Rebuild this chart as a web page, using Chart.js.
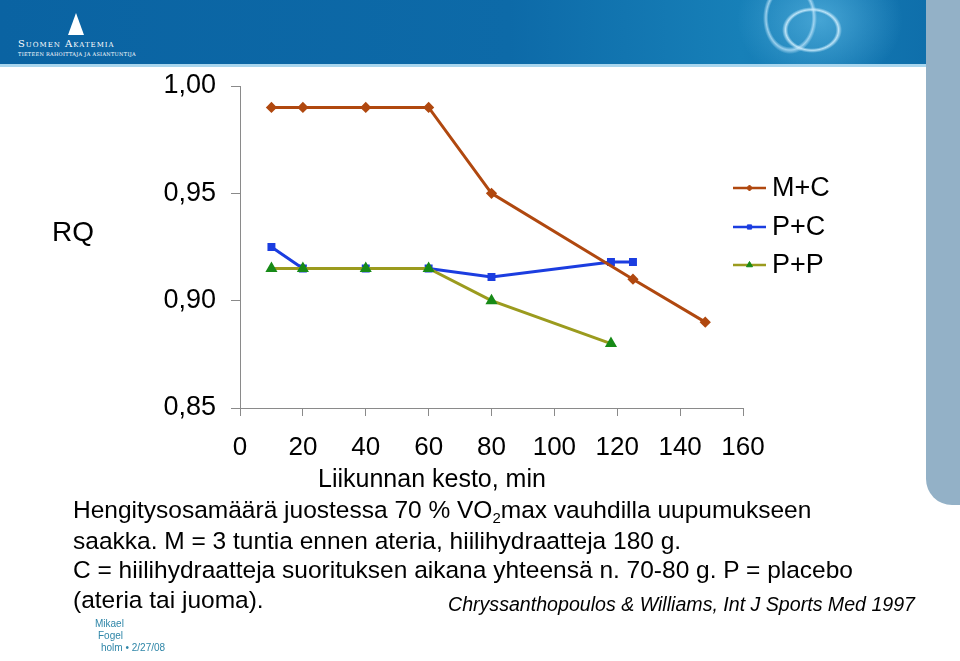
<!DOCTYPE html>
<html>
<head>
<meta charset="utf-8">
<script src="https://cdn.jsdelivr.net/npm/chart.js@4.4.1/dist/chart.umd.min.js"></script>
<style>
  html, body { margin: 0; padding: 0; background: #fff; }
  body { width: 960px; height: 661px; position: relative; overflow: hidden;
         font-family: "Liberation Sans", Arial, Helvetica, sans-serif; color: #000; }
  #banner { position: absolute; left: 0; top: 0; width: 926px; height: 64px;
            background:
              radial-gradient(ellipse 34px 26px at 812px 30px, rgba(0,0,0,0) 70%, rgba(210,240,255,0.85) 78%, rgba(0,0,0,0) 88%),
              radial-gradient(ellipse 30px 40px at 790px 18px, rgba(0,0,0,0) 72%, rgba(200,235,255,0.7) 80%, rgba(0,0,0,0) 90%),
              radial-gradient(ellipse 110px 90px at 820px 20px, rgba(110,200,240,0.55), rgba(0,0,0,0) 75%),
              linear-gradient(90deg, #0a63a2 0%, #0d6aa8 55%, #1780b8 80%, #0f6fab 100%);
            border-bottom: 3px solid #a9d6ee; }
  #panel { position: absolute; left: 926px; top: 0; width: 34px; height: 505px;
           background: #93b1c7; border-bottom-left-radius: 26px; }
  #tri { position: absolute; left: 68px; top: 13px; width: 0; height: 0;
         border-left: 8px solid transparent; border-right: 8px solid transparent;
         border-bottom: 22px solid #fff; }
  #logo1 { position: absolute; left: 18px; top: 38px; color: #fff; font-family: "DejaVu Serif", serif;
           font-size: 10px; letter-spacing: 1px; font-variant: small-caps; white-space: nowrap; }
  #logo2 { position: absolute; left: 18px; top: 51px; color: #fff; font-family: "DejaVu Serif", serif;
           font-size: 5px; letter-spacing: 0.3px; white-space: nowrap; }
  canvas { position: absolute; left: 0; top: 0; }
  .t { position: absolute; white-space: nowrap; line-height: 1; }
  #rq { left: 52px; top: 218px; font-size: 28px; }
  #xt { left: 318px; top: 466px; font-size: 25px; }
  .cap { left: 73px; font-size: 24.5px; }
  .cap sub { font-size: 15px; vertical-align: -5px; line-height: 0; }
  #cite { left: 448px; top: 595px; font-size: 19.6px; font-style: italic; }
  .foot { font-size: 10px; color: #2f86a8; }
</style>
</head>
<body>
<div id="banner"></div>
<div id="panel"></div>
<div id="tri"></div>
<div id="logo1">Suomen Akatemia</div>
<div id="logo2">TIETEEN RAHOITTAJA JA ASIANTUNTIJA</div>
<canvas id="rqChart" width="960" height="661"></canvas>
<div class="t" id="rq">RQ</div>
<div class="t" id="xt">Liikunnan kesto, min</div>
<div class="t cap" style="top:498px">Hengitysosamäärä juostessa 70 % VO<sub>2</sub>max vauhdilla uupumukseen</div>
<div class="t cap" style="top:529px">saakka. M = 3 tuntia ennen ateria, hiilihydraatteja 180 g.</div>
<div class="t cap" style="top:558px">C = hiilihydraatteja suorituksen aikana yhteensä n. 70-80 g. P = placebo</div>
<div class="t cap" style="top:588px">(ateria tai juoma).</div>
<div class="t" id="cite">Chryssanthopoulos &amp; Williams, Int J Sports Med 1997</div>
<div class="t foot" style="left:95px;top:619px">Mikael</div>
<div class="t foot" style="left:98px;top:631px">Fogel</div>
<div class="t foot" style="left:101px;top:643px">holm &bull; 2/27/08</div>
<script>
// RQ values
var seriesNames = ['M+C', 'P+C', 'P+P'];
var minutesMC = [10, 20, 40, 60, 80, 125, 148];
var rqMC = [0.99, 0.99, 0.99, 0.99, 0.95, 0.91, 0.89];
var minutesPC = [10, 20, 40, 60, 80, 118, 125];
var rqPC = [0.925, 0.915, 0.915, 0.915, 0.911, 0.918, 0.918];
var minutesPP = [10, 20, 40, 60, 80, 118];
var rqPP = [0.915, 0.915, 0.915, 0.915, 0.90, 0.88];
var xTicks = [0, 20, 40, 60, 80, 100, 120, 140, 160];
var yTicks = [0.85, 0.90, 0.95, 1.00];

function pts(xs, ys) {
    var out = [];
    for (var i = 0; i < xs.length; i++) out.push({ x: xs[i], y: ys[i] });
    return out;
}

// draws the legend at the right, line + marker like the original
var sideLegend = {
    id: 'sideLegend',
    afterDraw: function (chart) {
        var ctx = chart.ctx;
        var ys = [188, 227, 265];
        chart.data.datasets.forEach(function (ds, i) {
            var y = ys[i];
            ctx.save();
            ctx.strokeStyle = ds.borderColor;
            ctx.lineWidth = 2.5;
            ctx.beginPath();
            ctx.moveTo(733, y);
            ctx.lineTo(766, y);
            ctx.stroke();
            ctx.fillStyle = ds.pointBackgroundColor;
            ctx.strokeStyle = ds.pointBorderColor;
            ctx.lineWidth = 1;
            Chart.helpers.drawPoint(ctx, { pointStyle: ds.pointStyle, radius: ds.pointRadius - 0.5, borderWidth: 1 }, 749.5, y);
            ctx.fillStyle = '#000';
            ctx.font = '27px "Liberation Sans", Arial, sans-serif';
            ctx.textBaseline = 'middle';
            ctx.fillText(ds.label, 772, y + 1);
            ctx.restore();
        });
    }
};

const ctx = document.getElementById('rqChart');
new Chart(ctx, {
    type: 'line',
    data: {
        datasets: [{
            label: seriesNames[0],
            data: pts(minutesMC, rqMC),
            borderColor: '#b0480f',
            borderWidth: 3,
            pointStyle: 'rectRot',
            pointRadius: 3.5,
            pointBackgroundColor: '#b0480f',
            pointBorderColor: '#b0480f',
            order: 1
        }, {
            label: seriesNames[1],
            data: pts(minutesPC, rqPC),
            borderColor: '#1b3de0',
            borderWidth: 3,
            pointStyle: 'rect',
            pointRadius: 3.5,
            pointBackgroundColor: '#1b3de0',
            pointBorderColor: '#1b3de0',
            order: 3
        }, {
            label: seriesNames[2],
            data: pts(minutesPP, rqPP),
            borderColor: '#9b9b1e',
            borderWidth: 3,
            pointStyle: 'triangle',
            pointRadius: 4,
            pointBackgroundColor: '#178a17',
            pointBorderColor: '#178a17',
            order: 2
        }]
    },
    options: {
        responsive: false,
        animation: false,
        layout: { padding: { left: 0, top: 86, right: 217, bottom: 0 } },
        plugins: { legend: { display: false }, tooltip: { enabled: false } },
        elements: { line: { tension: 0 } },
        scales: {
            x: {
                type: 'linear',
                min: xTicks[0],
                max: xTicks[xTicks.length - 1],
                afterBuildTicks: function (s) { s.ticks = xTicks.map(function (v) { return { value: v }; }); },
                afterFit: function (s) { s.height = 253; },
                ticks: {
                    color: '#000',
                    padding: 16,
                    maxRotation: 0,
                    font: { size: 26, family: '"Liberation Sans", Arial, sans-serif' }
                },
                grid: { drawOnChartArea: false, tickLength: 8, color: '#8a8a8a' },
                border: { color: '#8a8a8a' }
            },
            y: {
                min: yTicks[0],
                max: yTicks[yTicks.length - 1],
                afterBuildTicks: function (s) { s.ticks = yTicks.map(function (v) { return { value: v }; }); },
                afterFit: function (s) { s.width = 240; },
                ticks: {
                    color: '#000',
                    padding: 15,
                    font: { size: 27, family: '"Liberation Sans", Arial, sans-serif' },
                    callback: function (v) { return v.toFixed(2).replace('.', ','); }
                },
                grid: { drawOnChartArea: false, tickLength: 9, color: '#8a8a8a' },
                border: { color: '#8a8a8a' }
            }
        }
    },
    plugins: [sideLegend]
});
</script>
</body>
</html>
